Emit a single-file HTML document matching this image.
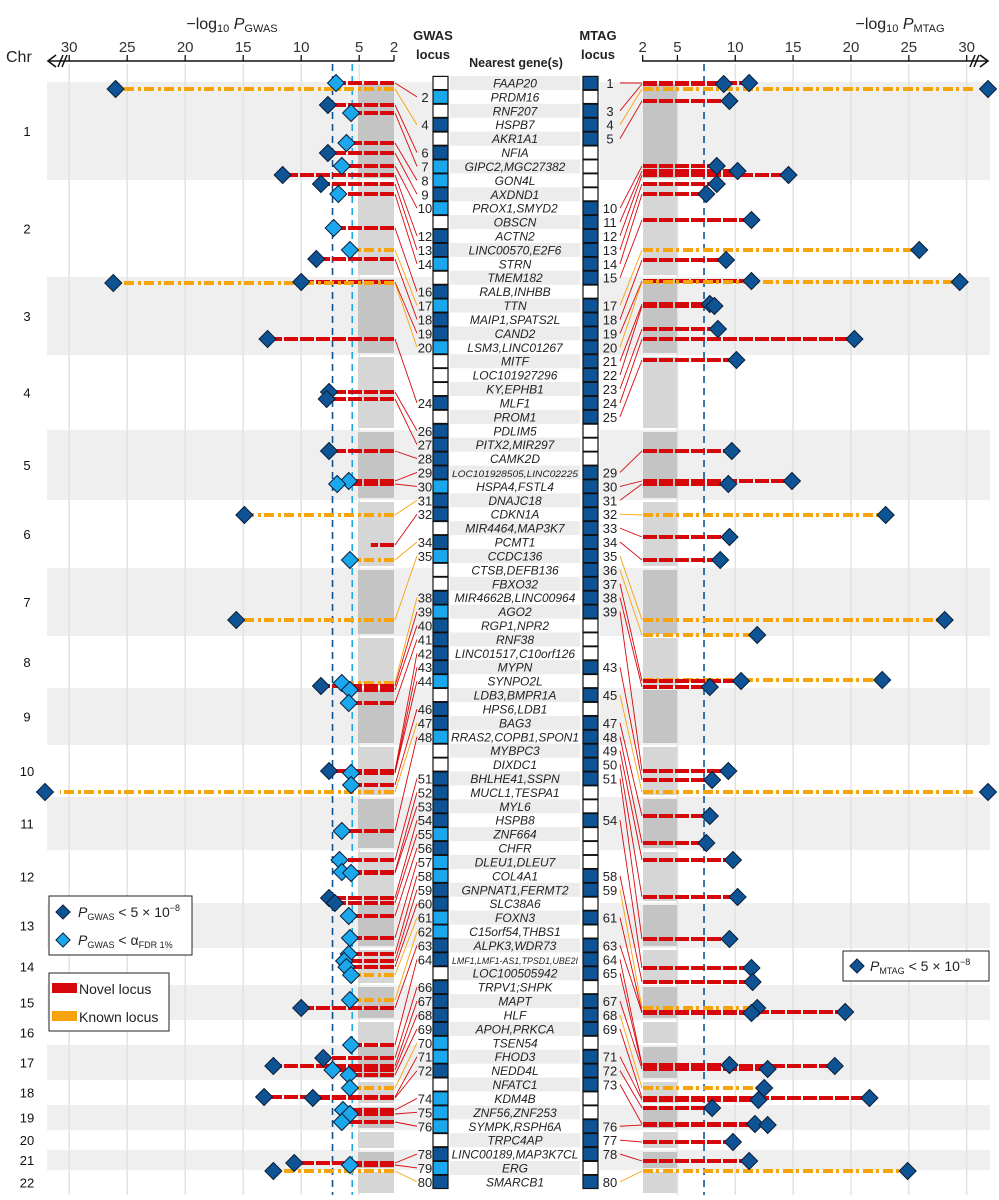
<!DOCTYPE html>
<html><head><meta charset="utf-8"><style>
body{margin:0;background:#fff;}
svg{display:block;font-family:"Liberation Sans",Arial,sans-serif;}
</style></head><body>
<svg id="chart" width="999" height="1200" viewBox="0 0 999 1200" xmlns="http://www.w3.org/2000/svg">
<g id="bg"></g><g id="grid"></g><g id="clouds"></g><g id="tracks"></g><g id="conn"></g><g id="center"></g><g id="axes"></g><g id="diam"></g>
</svg>
<script>
const genes=["FAAP20","PRDM16","RNF207","HSPB7","AKR1A1","NFIA","GIPC2,MGC27382","GON4L","AXDND1","PROX1,SMYD2","OBSCN","ACTN2","LINC00570,E2F6","STRN","TMEM182","RALB,INHBB","TTN","MAIP1,SPATS2L","CAND2","LSM3,LINC01267","MITF","LOC101927296","KY,EPHB1","MLF1","PROM1","PDLIM5","PITX2,MIR297","CAMK2D","LOC101928505,LINC02225","HSPA4,FSTL4","DNAJC18","CDKN1A","MIR4464,MAP3K7","PCMT1","CCDC136","CTSB,DEFB136","FBXO32","MIR4662B,LINC00964","AGO2","RGP1,NPR2","RNF38","LINC01517,C10orf126","MYPN","SYNPO2L","LDB3,BMPR1A","HPS6,LDB1","BAG3","RRAS2,COPB1,SPON1","MYBPC3","DIXDC1","BHLHE41,SSPN","MUCL1,TESPA1","MYL6","HSPB8","ZNF664","CHFR","DLEU1,DLEU7","COL4A1","GNPNAT1,FERMT2","SLC38A6","FOXN3","C15orf54,THBS1","ALPK3,WDR73","LMF1,LMF1-AS1,TPSD1,UBE2I","LOC100505942","TRPV1;SHPK","MAPT","HLF","APOH,PRKCA","TSEN54","FHOD3","NEDD4L","NFATC1","KDM4B","ZNF56,ZNF253","SYMPK,RSPH6A","TRPC4AP","LINC00189,MAP3K7CL","ERG","SMARCB1"];
const gwasLocus=[0,2,0,1,0,1,2,2,1,2,0,1,1,2,0,1,2,1,1,2,0,0,0,1,0,1,1,1,1,2,1,1,0,1,2,0,0,1,2,1,1,1,1,2,0,1,1,2,0,0,1,1,1,1,2,1,2,2,1,1,2,2,1,1,0,1,1,1,1,2,2,1,0,2,2,2,0,1,2,1];
const mtagLoci=[1,3,4,5,10,11,12,13,14,15,17,18,19,20,21,22,23,24,25,29,30,31,32,33,34,35,36,37,38,39,43,45,47,48,49,50,51,54,58,59,61,63,64,65,67,68,69,71,72,73,76,77,78,80];
const chrLabels=["1","2","3","4","5","6","7","8","9","10","11","12","13","14","15","16","17","18","19","20","21","22"];
const chrBounds=[82,180,277,355,430,500,568,636,688,745,797,850,903,948,985,1020,1045,1080,1105,1130,1150,1170,1195];
const gwasTicks=[30,25,20,15,10,5,2];
const mtagTicks=[2,5,10,15,20,25,30];
const gwasTracks=[[83,7.0,0,0],[89,26,1,1],[105,7.7,0,1],[113,5.7,0,0],[143,6.1,0,0],[153,7.7,0,1],[166,6.5,0,0],[175,11.6,0,1],[184,8.3,0,1],[194,6.8,0,0],[228,7.2,0,0],[250,5.8,1,0],[259,8.7,0,1],[282,10,0,1],[283,26.2,1,1],[339,12.9,0,1],[392,7.6,0,1],[399,7.8,0,1],[451,7.6,0,1],[481,5.9,0,0],[484,6.9,0,0],[515,14.9,1,1],[545,4,0,-1],[560,5.8,1,0],[620,15.6,1,1],[683,6.5,1,0],[686,8.3,0,1],[690,5.8,0,0],[703,5.9,0,0],[771,7.6,0,1],[773,5.7,0,0],[785,5.7,0,0],[792,33,1,1],[831,6.5,0,0],[860,6.7,0,0],[872,6.5,0,0],[873,5.7,0,0],[898,7.6,0,1],[903,7.1,0,1],[916,5.9,0,0],[938,5.8,0,0],[954,5.9,0,0],[961,6.3,0,0],[967,6.1,0,0],[975,5.7,1,0],[1000,5.8,1,0],[1008,10,0,1],[1045,5.7,0,0],[1058,8.1,0,1],[1066,12.4,0,1],[1070,7.3,0,0],[1075,5.9,0,0],[1088,5.8,1,0],[1097,13.2,0,1],[1098,9,0,1],[1110,6.4,0,0],[1114,5.8,0,0],[1122,6.5,0,0],[1163,10.6,0,1],[1165,5.8,0,0],[1171,12.4,1,1]];
const mtagTracks=[[83,11.2,0],[84,9,0],[89,32,1],[101,9.5,0],[166,8.4,0],[171,10.2,0],[175,14.6,0],[184,8.4,0],[194,7.5,0],[220,11.4,0],[250,25.9,1],[260,9.2,0],[281,11.4,0],[282,29.4,1],[304,7.8,0],[306,8.2,0],[329,8.5,0],[339,20.3,0],[360,10.1,0],[451,9.7,0],[481,14.9,0],[484,9.4,0],[515,23,1],[537,9.5,0],[560,8.7,0],[620,28.1,1],[635,11.9,1],[680,22.7,1],[681,10.5,0],[687,7.8,0],[771,9.4,0],[780,8,0],[792,32,1],[816,7.8,0],[843,7.5,0],[860,9.8,0],[897,10.2,0],[939,9.5,0],[968,11.4,0],[982,11.5,0],[1008,11.9,1],[1012,19.5,0],[1013,11.4,0],[1065,9.5,0],[1066,18.6,0],[1069,12.8,0],[1088,12.5,1],[1098,21.6,0],[1100,12,0],[1108,8,0],[1124,11.7,0],[1125,12.8,0],[1142,9.8,0],[1161,11.2,0],[1171,24.9,1]];

const NS="http://www.w3.org/2000/svg";
function mk(tag,attrs,parent,text){const e=document.createElementNS(NS,tag);for(const k in attrs)e.setAttribute(k,attrs[k]);if(text!==undefined)e.textContent=text;document.getElementById(parent).appendChild(e);return e;}
const xL=p=>p>31?45:394-(p-2)*11.6;
const xR=p=>p>31?988:642.7+(p-2)*11.57;
const rowY=i=>83+i*13.91;
const RED="#d7080c",ORG="#f7a30b",DARK="#0e5494",LIGHT="#1ba7ec";

chrLabels.forEach((c,i)=>{
  const y0=chrBounds[i],y1=chrBounds[i+1];
  if(i%2===0){
    let r=mk('rect',{x:47,y:y0,width:385,height:y1-y0,fill:'#efefef'},'bg');
    
    
    let r2=mk('rect',{x:600,y:y0,width:390,height:y1-y0,fill:'#efefef'},'bg');
    
    
  }
  let t=mk('text',{x:27,y:(y0+y1)/2+5,'font-size':13,'text-anchor':'middle',fill:'#111'},'axes',c);
  
  
  const g1=mk('rect',{x:358,y:y0+2,width:36,height:y1-y0-4,fill:i%2?'#d6d6d6':'#c4c4c4'},'clouds');
  
  
  const g2=mk('rect',{x:643,y:y0+2,width:34,height:y1-y0-4,fill:i%2?'#d6d6d6':'#c4c4c4'},'clouds');
  
  
});
gwasTicks.forEach(t=>{const x=xL(t);
  if(t!==2){const l=mk('line',{x1:x,y1:64,x2:x,y2:1195,stroke:'#e2e2e2','stroke-width':1.5},'grid');}
  mk('line',{x1:x,y1:61,x2:x,y2:55,stroke:'#111','stroke-width':1.3},'axes');
  const tx=mk('text',{x:x,y:52,'font-size':15,'text-anchor':'middle',fill:'#333'},'axes',t);
  });
mtagTicks.forEach(t=>{const x=xR(t);
  if(t!==2){const l=mk('line',{x1:x,y1:64,x2:x,y2:1195,stroke:'#e2e2e2','stroke-width':1.5},'grid');}
  mk('line',{x1:x,y1:61,x2:x,y2:55,stroke:'#111','stroke-width':1.3},'axes');
  const tx=mk('text',{x:x,y:52,'font-size':15,'text-anchor':'middle',fill:'#333'},'axes',t);
  });
[[xL(7.3),DARK],[xL(5.6),LIGHT]].forEach(([x,c])=>{const l=mk('line',{x1:x,y1:64,x2:x,y2:1195,stroke:c,'stroke-width':1.6,'stroke-dasharray':'7,5'},'grid');});
{const l=mk('line',{x1:xR(7.3),y1:64,x2:xR(7.3),y2:1195,stroke:DARK,'stroke-width':1.6,'stroke-dasharray':'7,5'},'grid');}

gwasTracks.forEach(([y,p,k,s])=>{
  const x=xL(p);const c=k?ORG:RED;
  const seg=mk('line',{x1:394,y1:y,x2:Math.max(x,60),y2:y,stroke:c,'stroke-width':4,'stroke-dasharray':k?'10,3,3,4':'14,2'},'tracks');
  
  if(s>=0){const d=mk('rect',{x:x-6,y:y-6,width:12,height:12,fill:s?DARK:LIGHT,stroke:'#0a1e3a','stroke-width':1,transform:`rotate(45 ${x} ${y})`},'diam');
    }
});
mtagTracks.forEach(([y,p,k])=>{
  const x=xR(p);const c=k?ORG:RED;
  const seg=mk('line',{x1:643,y1:y,x2:Math.min(x,975),y2:y,stroke:c,'stroke-width':4,'stroke-dasharray':k?'10,3,3,4':'14,2'},'tracks');
  
  const d=mk('rect',{x:x-6,y:y-6,width:12,height:12,fill:DARK,stroke:'#0a1e3a','stroke-width':1,transform:`rotate(45 ${x} ${y})`},'diam');
  
});

genes.forEach((g,i)=>{
  const y=rowY(i);
  if(i%2===0){const r=mk('rect',{x:450,y:y-7,width:130,height:14,fill:'#ececec'},'center');}
  const small=g.length>20;
  const attrs={x:515,y:y+4.5,'font-size':small?9:12,'font-style':'italic','text-anchor':'middle',fill:'#222'};
  if(small){attrs.textLength=126;attrs.lengthAdjust='spacingAndGlyphs';}
  const t=mk('text',attrs,'center',g);
  
  const gl=gwasLocus[i];
  const b=mk('rect',{x:433,y:y-6.6,width:15,height:13.2,fill:gl===1?DARK:gl===2?LIGHT:'#fff',stroke:'#111','stroke-width':1.2},'center');
  
  const isM=mtagLoci.includes(i+1);
  const b2=mk('rect',{x:583,y:y-6.6,width:15,height:13.2,fill:isM?DARK:'#fff',stroke:'#111','stroke-width':1.2},'center');
  
  if(gl){const n=mk('text',{x:425,y:y+5,'font-size':13,'text-anchor':'middle',fill:'#222'},'center',i+1);}
  if(isM){const n=mk('text',{x:610,y:y+5,'font-size':13,'text-anchor':'middle',fill:'#222'},'center',i+1);}
});
(function(){
  const rows=[];gwasLocus.forEach((v,i)=>{if(v)rows.push(i);});
  const tr=gwasTracks;
  rows.forEach((r,j)=>{const t=tr[Math.round(j*(tr.length-1)/(rows.length-1))];
    const l=mk('line',{x1:395,y1:t[0],x2:417,y2:rowY(r),stroke:t[2]?ORG:RED,'stroke-width':0.9},'conn');
    });
  const mr=mtagLoci.map(v=>v-1);
  mr.forEach((r,j)=>{const t=mtagTracks[Math.round(j*(mtagTracks.length-1)/(mr.length-1))];
    const l=mk('line',{x1:620,y1:rowY(r),x2:642,y2:t[0],stroke:t[2]?ORG:RED,'stroke-width':0.9},'conn');
    });
})();
</script>
<svg style="position:absolute;left:0;top:0" width="999" height="1200" xmlns="http://www.w3.org/2000/svg" font-family="Liberation Sans, Arial, sans-serif">
  <g>
    <line x1="48" y1="61" x2="394" y2="61" stroke="#111" stroke-width="1.6"/>
    <polyline points="56,55 48,61 56,67" fill="none" stroke="#111" stroke-width="1.6"/>
    <line x1="58" y1="67" x2="63" y2="55" stroke="#111" stroke-width="1.5"/>
    <line x1="62" y1="67" x2="67" y2="55" stroke="#111" stroke-width="1.5"/>
  </g>
  <g>
    <line x1="642" y1="61" x2="988" y2="61" stroke="#111" stroke-width="1.6"/>
    <polyline points="980,55 988,61 980,67" fill="none" stroke="#111" stroke-width="1.6"/>
    <line x1="970" y1="67" x2="975" y2="55" stroke="#111" stroke-width="1.5"/>
    <line x1="974" y1="67" x2="979" y2="55" stroke="#111" stroke-width="1.5"/>
  </g>
  <text x="232" y="29" font-size="16" text-anchor="middle" fill="#222">−log<tspan font-size="11" dy="3">10</tspan><tspan dy="-3" font-style="italic"> P</tspan><tspan font-size="11" dy="3">GWAS</tspan></text>
  <text x="900" y="29" font-size="16" text-anchor="middle" fill="#222">−log<tspan font-size="11" dy="3">10</tspan><tspan dy="-3" font-style="italic"> P</tspan><tspan font-size="11" dy="3">MTAG</tspan></text>
  <text x="6" y="62" font-size="16" fill="#222">Chr</text>
  <text x="433" y="40" font-size="13" font-weight="bold" text-anchor="middle" fill="#222">GWAS</text>
  <text x="433" y="59" font-size="13" font-weight="bold" text-anchor="middle" fill="#222">locus</text>
  <text x="598" y="40" font-size="13" font-weight="bold" text-anchor="middle" fill="#222">MTAG</text>
  <text x="598" y="59" font-size="13" font-weight="bold" text-anchor="middle" fill="#222">locus</text>
  <text x="516" y="67" font-size="12.5" font-weight="bold" text-anchor="middle" fill="#222">Nearest gene(s)</text>
  <g>
    <rect x="49" y="896" width="143" height="59" fill="#fff" stroke="#222" stroke-width="1"/>
    <rect x="58" y="907" width="10" height="10" fill="#0e5494" stroke="#0a1e3a" transform="rotate(45 63 912)"/>
    <text x="78" y="917" font-size="14" fill="#222"><tspan font-style="italic">P</tspan><tspan font-size="9" dy="3">GWAS</tspan><tspan dy="-3"> &lt; 5 × 10</tspan><tspan font-size="9" dy="-6">−8</tspan></text>
    <rect x="58" y="935" width="10" height="10" fill="#1ba7ec" stroke="#0a1e3a" transform="rotate(45 63 940)"/>
    <text x="78" y="945" font-size="14" fill="#222"><tspan font-style="italic">P</tspan><tspan font-size="9" dy="3">GWAS</tspan><tspan dy="-3"> &lt; α</tspan><tspan font-size="9" dy="3">FDR 1%</tspan></text>
  </g>
  <g>
    <rect x="49" y="973" width="120" height="58" fill="#fff" stroke="#222" stroke-width="1"/>
    <rect x="52" y="983" width="25" height="10" fill="#d7080c"/>
    <text x="79" y="994" font-size="14" fill="#222">Novel locus</text>
    <rect x="52" y="1011" width="25" height="10" fill="#f7a30b"/>
    <text x="79" y="1022" font-size="14" fill="#222">Known locus</text>
  </g>
  <g>
    <rect x="843" y="951" width="146" height="30" fill="#fff" stroke="#222" stroke-width="1"/>
    <rect x="852" y="961" width="10" height="10" fill="#0e5494" stroke="#0a1e3a" transform="rotate(45 857 966)"/>
    <text x="870" y="971" font-size="14" fill="#222"><tspan font-style="italic">P</tspan><tspan font-size="9" dy="3">MTAG</tspan><tspan dy="-3"> &lt; 5 × 10</tspan><tspan font-size="9" dy="-6">−8</tspan></text>
  </g>
</svg>
</body></html>
